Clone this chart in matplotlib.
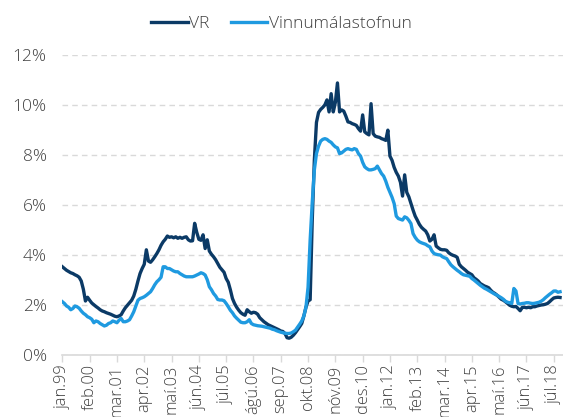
import matplotlib
matplotlib.use("Agg")
import numpy as np
import matplotlib.pyplot as plt

# monthly unemployment rate (%), jan 1999 - okt 2018
vr = [
    3.52, 3.45, 3.38, 3.33, 3.28, 3.25, 3.20, 3.16, 3.10, 2.95, 2.62, 2.15,
    2.30, 2.18, 2.07, 2.00, 1.93, 1.87, 1.80, 1.75, 1.72, 1.68, 1.65, 1.62,
    1.58, 1.54, 1.52, 1.55, 1.60, 1.75, 1.88, 1.98, 2.08, 2.18, 2.35, 2.62,
    2.95, 3.25, 3.45, 3.62, 4.20, 3.75, 3.70, 3.80, 3.92, 4.05, 4.20, 4.38,
    4.52, 4.62, 4.75, 4.70, 4.72, 4.68, 4.72, 4.66, 4.70, 4.66, 4.70, 4.72,
    4.60, 4.55, 4.56, 5.26, 4.90, 4.62, 4.58, 4.80, 4.25, 4.60, 4.15, 4.02,
    3.92, 3.80, 3.65, 3.50, 3.40, 3.30, 3.05, 2.90, 2.60, 2.25, 2.05, 1.90,
    1.78, 1.68, 1.62, 1.58, 1.80, 1.72, 1.66, 1.70, 1.68, 1.62, 1.48, 1.40,
    1.32, 1.26, 1.20, 1.16, 1.12, 1.08, 1.04, 1.00, 0.95, 0.93, 0.85, 0.68,
    0.66, 0.70, 0.78, 0.88, 1.00, 1.12, 1.25, 1.55, 1.90, 2.15, 2.20, 5.40,
    7.80, 9.30, 9.70, 9.82, 9.90, 10.00, 10.20, 9.72, 10.45, 9.72, 10.10, 10.88,
    9.72, 9.80, 9.75, 9.55, 9.32, 9.30, 9.25, 9.22, 9.18, 9.05, 8.95, 9.60,
    8.92, 8.85, 8.80, 10.05, 8.85, 8.75, 8.72, 8.70, 8.65, 8.62, 8.58, 8.99,
    7.95, 7.78, 7.50, 7.30, 7.15, 6.90, 6.35, 7.20, 6.50, 6.32, 6.05, 5.79,
    5.55, 5.39, 5.22, 5.10, 5.02, 4.95, 4.80, 4.55, 4.62, 4.80, 4.35, 4.28,
    4.22, 4.20, 4.20, 4.18, 4.08, 4.02, 3.98, 3.95, 3.90, 3.62, 3.52, 3.45,
    3.38, 3.30, 3.25, 3.20, 3.08, 3.02, 2.95, 2.85, 2.80, 2.75, 2.72, 2.68,
    2.58, 2.50, 2.45, 2.38, 2.30, 2.22, 2.18, 2.12, 2.05, 1.98, 1.94, 1.92,
    1.93, 1.85, 1.76, 1.89, 1.90, 1.88, 1.90, 1.88, 1.92, 1.92, 1.95, 1.97,
    1.99, 2.00, 2.02, 2.05, 2.12, 2.20, 2.27, 2.29, 2.30, 2.29,
]

vmst = [
    2.12, 2.05, 1.95, 1.90, 1.80, 1.85, 1.95, 1.92, 1.86, 1.75, 1.66, 1.60,
    1.52, 1.48, 1.42, 1.28, 1.35, 1.32, 1.25, 1.20, 1.15, 1.18, 1.25, 1.28,
    1.35, 1.32, 1.28, 1.38, 1.45, 1.32, 1.32, 1.35, 1.40, 1.55, 1.72, 1.95,
    2.18, 2.25, 2.28, 2.32, 2.38, 2.45, 2.52, 2.65, 2.80, 2.92, 3.00, 3.10,
    3.52, 3.52, 3.45, 3.45, 3.40, 3.35, 3.32, 3.32, 3.25, 3.20, 3.15, 3.12,
    3.12, 3.12, 3.12, 3.15, 3.19, 3.23, 3.28, 3.25, 3.19, 3.00, 2.72, 2.60,
    2.45, 2.35, 2.21, 2.19, 2.19, 2.16, 2.05, 1.92, 1.78, 1.68, 1.55, 1.46,
    1.38, 1.30, 1.28, 1.28, 1.32, 1.40, 1.25, 1.20, 1.18, 1.16, 1.15, 1.14,
    1.12, 1.10, 1.08, 1.06, 1.02, 1.00, 0.96, 0.93, 0.90, 0.88, 0.86, 0.85,
    0.85, 0.87, 0.92, 0.98, 1.10, 1.22, 1.35, 1.55, 1.90, 2.70, 4.60, 6.10,
    7.40, 8.05, 8.35, 8.55, 8.62, 8.65, 8.62, 8.55, 8.50, 8.40, 8.32, 8.28,
    8.05, 8.08, 8.15, 8.22, 8.25, 8.22, 8.20, 8.25, 8.22, 8.05, 7.95, 7.70,
    7.52, 7.45, 7.40, 7.40, 7.42, 7.45, 7.55, 7.40, 7.25, 7.15, 6.95, 6.70,
    6.50, 6.30, 6.05, 5.55, 5.45, 5.42, 5.39, 5.52, 5.48, 5.38, 5.25, 4.85,
    4.70, 4.59, 4.52, 4.48, 4.45, 4.42, 4.36, 4.32, 4.15, 4.05, 4.02, 4.00,
    3.99, 3.92, 3.88, 3.85, 3.72, 3.60, 3.52, 3.45, 3.38, 3.32, 3.25, 3.20,
    3.18, 3.16, 3.14, 3.05, 2.99, 2.92, 2.85, 2.78, 2.72, 2.66, 2.62, 2.57,
    2.52, 2.47, 2.42, 2.38, 2.33, 2.28, 2.22, 2.14, 2.10, 2.08, 2.05, 2.65,
    2.55, 2.05, 2.03, 2.05, 2.06, 2.08, 2.08, 2.06, 2.05, 2.06, 2.08, 2.10,
    2.14, 2.20, 2.28, 2.35, 2.42, 2.48, 2.55, 2.55, 2.50, 2.52,
]

tick_labels = ["jan.99", "feb.00", "mar.01", "apr.02", "maí.03", "jún.04",
               "júl.05", "ágú.06", "sep.07", "okt.08", "nóv.09", "des.10",
               "jan.12", "feb.13", "mar.14", "apr.15", "maí.16", "jún.17",
               "júl.18"]

DARK = "#0b3a66"
LIGHT = "#1f9ae0"
GRID = "#d9d9d9"
TEXT = "#404040"

plt.rcParams["font.family"] = ["Open Sans", "DejaVu Sans"]
plt.rcParams["font.weight"] = "light"

fig = plt.figure(figsize=(5.63, 4.17), dpi=100)
ax = fig.add_axes([0.110, 0.1494, 0.89, 0.7188])

months = np.arange(len(vr))
ax.plot(months, vr, color=DARK, lw=2.4, label="VR", solid_joinstyle="round")
ax.plot(months, vmst, color=LIGHT, lw=2.4, label="Vinnumálastofnun",
        solid_joinstyle="round")

ax.set_ylim(0, 12)
ax.set_xlim(-0.2, 238.4)
ax.set_yticks(np.arange(0, 13, 2))
ax.set_yticklabels([f"{v}%" for v in range(0, 13, 2)])
ax.set_xticks(np.arange(0, 13 * len(tick_labels), 13))
ax.set_xticklabels(tick_labels, rotation=90)

ax.grid(axis="y", color=GRID, ls=(0, (4, 3)), lw=1)
ax.set_axisbelow(True)
for s in ["left", "right", "top"]:
    ax.spines[s].set_visible(False)
ax.spines["bottom"].set_color(GRID)
ax.spines["bottom"].set_linewidth(1.2)
ax.tick_params(axis="y", length=0, pad=11, labelsize=12.5, labelcolor=TEXT)
ax.tick_params(axis="x", length=5, color=GRID, width=1, pad=2,
               labelsize=11.8, labelcolor=TEXT)

fig.legend(loc="upper center", bbox_to_anchor=(0.5, 1.0), ncol=2,
           frameon=False, fontsize=12.5, handlelength=2.1, handletextpad=0.1,
           columnspacing=1.2, labelcolor=TEXT)

fig.savefig("out.png", dpi=100)
